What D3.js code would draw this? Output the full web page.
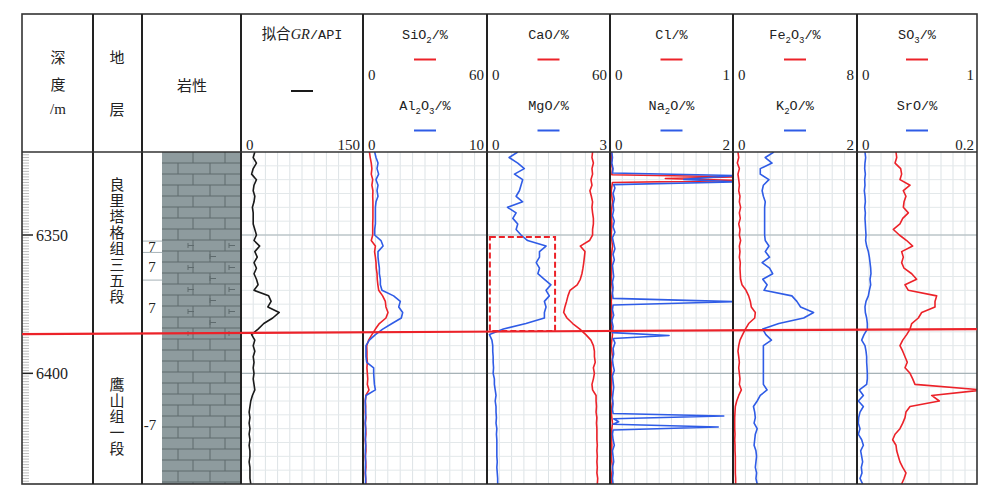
<!DOCTYPE html>
<html><head><meta charset="utf-8">
<script src="https://cdn.jsdelivr.net/npm/d3@7"></script>
<style>body{margin:0;background:#fff}svg{display:block}</style>
</head><body><svg id="chart" width="1000" height="501"></svg>
<script>
// ---------------- DATA ----------------
const depths = [6320,6322,6324,6326,6328,6330,6332,6334,6336,6338,
  6340,6342,6344,6346,6348,6350,6352,6354,6356,6358,
  6360,6362,6364,6366,6368,6370,6372,6374,6376,6378,
  6380,6382,6384,6386,6388,6390,6392,6394,6396,6398,
  6400,6402,6404,6406,6408,6410,6412,6414,6416,6418,
  6420,6422,6424,6426,6428,6430,6432,6434,6436,6438,6440];
const grValues = [17,15,19,15,13,19,16,15,17,16, 14,15,15,15,17,19,16,23,17,20,
  16,19,16,19,21,16,34,37,33,47, 39,28,21,13,17,15,17,15,16,15,
  16,15,16,17,14,12,11,10,11,10, 11,10,11,10,11,11,10,11,11,11, 12];
const sio2Values = [3.1,3.5,4.0,4.3,4.0,4.7,4.3,4.8,4.7,4.8, 4.8,4.8,4.8,4.7,4.7,4.7,4.0,6.0,5.6,6.0,
  6.3,6.4,6.8,6.9,7.2,7.6,9.5,10.8,11.1,12.1, 11.1,7.9,6.0,4.3,2.7,1.8,1.9,1.9,2.1,1.9,
  2.1,2.3,2.1,2.9,1.4,1.1,1.3,1.1,1.4,1.1, 1.3,1.4,1.1,1.3,1.4,1.1,1.3,1.4,1.1,1.3, 1.4];
const al2o3Values = [0.94,1.05,1.21,1.13,1.26,1.05,1.21,1.13,1.21,1.05, 1.0,1.0,1.0,1.0,0.94,0.94,1.45,1.62,1.21,1.21,
  1.26,1.32,1.32,1.40,1.40,1.53,2.47,3.01,2.88,3.20, 3.09,2.34,1.59,1.0,0.51,0.24,0.24,0.24,0.30,0.86,
  0.86,0.89,0.92,1.0,0.24,0.19,0.19,0.22,0.20,0.19, 0.21,0.19,0.20,0.22,0.19,0.20,0.21,0.19,0.20,0.22, 0.20];
const caoValues = [51.5,51.2,51.9,51.2,51.5,50.7,51.2,50.2,50.9,51.5, 51.2,51.5,51.9,51.9,51.5,51.5,50.0,45.5,47.8,47.5,
  47.2,46.8,46.3,45.5,44.0,40.5,39.5,38.8,38.0,37.4, 39.0,41.8,45.3,48.2,50.7,51.9,52.4,52.4,52.8,51.9,
  52.4,51.9,51.2,51.5,53.2,53.2,53.4,53.2,53.6,53.4, 53.6,53.6,53.6,53.8,53.6,53.8,53.6,53.8,53.6,54.0, 53.8];
const mgoValues = [0.75,0.54,0.75,0.91,0.67,0.87,0.83,0.79,0.71,0.87, 0.50,0.71,0.63,0.75,0.71,0.83,0.99,1.44,1.28,1.28,
  1.20,1.28,1.24,1.40,1.56,1.44,1.52,1.40,1.44,1.40, 1.40,0.95,0.40,0.06,0.12,0.14,0.14,0.15,0.15,0.16,
  0.15,0.18,0.18,0.20,0.22,0.20,0.22,0.22,0.23,0.22, 0.24,0.23,0.24,0.24,0.24,0.24,0.25,0.24,0.25,0.26, 0.26];
const fe2o3Values = [0.32,0.37,0.28,0.41,0.32,0.37,0.41,0.37,0.45,0.41, 0.49,0.41,0.47,0.37,0.45,0.41,0.49,0.41,0.45,0.41,
  0.47,0.45,0.47,0.49,0.58,0.84,1.01,1.12,1.18,1.44, 1.40,1.01,0.80,0.62,0.45,0.37,0.32,0.37,0.41,0.37,
  0.41,0.45,0.41,0.54,0.37,0.24,0.15,0.13,0.11,0.11, 0.11,0.13,0.11,0.13,0.13,0.15,0.15,0.15,0.15,0.17, 0.17];
const k2oValues = [0.66,0.52,0.63,0.44,0.44,0.58,0.49,0.47,0.49,0.52, 0.51,0.51,0.51,0.51,0.51,0.51,0.52,0.58,0.52,0.59,
  0.47,0.59,0.64,0.48,0.55,0.50,0.95,1.03,1.09,1.30, 1.14,0.74,0.48,0.53,0.62,0.49,0.49,0.49,0.49,0.49,
  0.49,0.49,0.49,0.55,0.44,0.39,0.33,0.35,0.36,0.34, 0.39,0.36,0.35,0.34,0.37,0.38,0.37,0.36,0.38,0.37, 0.39];
const so3Values = [0.325,0.331,0.317,0.364,0.372,0.358,0.442,0.386,0.408,0.392, 0.386,0.428,0.381,0.358,0.303,0.353,0.414,0.464,0.372,0.386,
  0.372,0.392,0.456,0.497,0.400,0.428,0.664,0.650,0.650,0.539, 0.511,0.456,0.442,0.414,0.381,0.358,0.381,0.400,0.419,0.400,
  0.442,0.464,0.483,1.05,0.622,0.686,0.442,0.408,0.400,0.381, 0.358,0.317,0.297,0.325,0.331,0.344,0.358,0.381,0.408,0.392, 0.372];
const sroValues = [0.0133,0.0144,0.0133,0.0128,0.0139,0.0128,0.0133,0.0122,0.0133,0.0139, 0.0128,0.0139,0.0133,0.0139,0.0144,0.0150,0.0144,0.0161,0.0189,0.0206,
  0.0217,0.0228,0.0233,0.0217,0.0228,0.0206,0.0189,0.0150,0.0133,0.0139, 0.0161,0.0172,0.0172,0.0117,0.0078,0.0133,0.0150,0.0161,0.0161,0.0167,
  0.0172,0.0172,0.0161,0.0039,0.0106,0.0022,0.0106,0.0050,0.0028,0.0022, 0.0050,0.0022,0.0078,0.0106,0.0061,0.0078,0.0094,0.0072,0.0083,0.0050, 0.0094];
// spiky curves: [depth, value]
const clPoints = [[6320,0.01],[6322,0.015],[6324,0.01],[6326,0.02],[6328.2,0.015],[6329.0,1.05],[6329.6,0.45],[6330.3,1.05],[6331.0,0.02],
  [6334,0.01],[6338,0.02],[6342,0.01],[6346,0.015],[6350,0.01],[6354,0.02],[6358,0.01],[6362,0.015],[6366,0.01],[6370,0.02],
  [6374,0.01],[6378,0.015],[6382,0.01],[6386,0.02],[6390,0.01],[6394,0.02],[6398,0.01],[6402,0.015],[6406,0.01],[6410,0.02],
  [6414,0.01],[6418,0.02],[6422,0.01],[6426,0.015],[6430,0.01],[6434,0.02],[6438,0.01],[6440,0.015]];
const na2oPoints = [[6320,0.03],[6322,0.04],[6324,0.03],[6326,0.05],[6327.6,0.04],[6328.5,2.05],[6329.9,1.2],[6330.8,2.05],[6331.8,0.06],
  [6333,0.08],[6335,0.05],[6337,0.07],[6339,0.05],[6341,0.06],[6343,0.04],[6345,0.07],[6347,0.05],[6349,0.08],[6351,0.04],
  [6353,0.06],[6355,0.08],[6357,0.05],[6359,0.07],[6361,0.04],[6363,0.05],[6365,0.06],[6367,0.04],[6369,0.05],[6371,0.04],
  [6372.9,0.05],[6374.1,2.05],[6375.3,0.05],[6377,0.04],[6379,0.06],[6381,0.03],[6383,0.05],[6385.3,0.04],[6386.3,0.96],[6387.4,0.05],
  [6389,0.08],[6391,0.05],[6393,0.06],[6395,0.04],[6397,0.05],[6399,0.07],[6401,0.04],[6403,0.05],[6405,0.06],[6407,0.05],
  [6409,0.04],[6411,0.05],[6413,0.04],[6414.5,0.05],[6415.4,1.85],[6416.4,0.06],[6417.5,0.14],[6418.4,0.05],[6419.4,1.76],[6420.5,0.05],
  [6422,0.04],[6424,0.05],[6426,0.07],[6428,0.04],[6430,0.05],[6432,0.06],[6434,0.04],[6436,0.05],[6438,0.04],[6440,0.05]];
const depthDomain = [6320, 6440];
const depthLabels = [6350, 6400];
const boundaryDepth = [6385.8, 6384.0]; // left, right ends of the red formation boundary
const mgoBox = {v0: 0.07, v1: 1.66, d0: 6350.7, d1: 6384.7};
const sampleLabels = [{d: 6354.3, t: "7"}, {d: 6361.6, t: "7"}, {d: 6376.4, t: "7"}, {d: 6418.7, t: "-7"}];
const sampleLines = [6352.2, 6356.3, 6366.3];
const dolomiteInterval = [6352, 6386];
const formations = [{t: "良里塔格组三五段", d: 6352.2}, {t: "鹰山组一段", d: 6415.8}];

// ---------------- LAYOUT ----------------
const RED = "#ec2229", BLUE = "#2f5ce6";
const L = 22, T = 14, R = 977, B = 484, HB = 152;
const cols = [22, 93, 142, 241, 363, 487, 610, 733, 857, 977];
const svg = d3.select("#chart");
const y = d3.scaleLinear().domain(depthDomain).range([HB, B]);
const zip = (vals) => depths.map((d, i) => [d, vals[i]]);

const CJK = "'Noto Sans CJK SC', sans-serif";
const SERIF = "'Liberation Serif', 'Times New Roman', serif";
const MONO = "'Liberation Mono', monospace";

const tracks = [
  {x0: 241, x1: 363, top: null, curves: [{pts: zip(grValues), dom: [0, 150], color: "#1a1a1a"}]},
  {x0: 363, x1: 487, top: {lab: [["SiO"], ["2", 1], ["/%"]], r: ["0", "60"]}, bot: {lab: [["Al"], ["2", 1], ["O"], ["3", 1], ["/%"]], r: ["0", "10"]},
   curves: [{pts: zip(sio2Values), dom: [0, 60], color: RED}, {pts: zip(al2o3Values), dom: [0, 10], color: BLUE}]},
  {x0: 487, x1: 610, top: {lab: [["CaO/%"]], r: ["0", "60"]}, bot: {lab: [["MgO/%"]], r: ["0", "3"]},
   curves: [{pts: zip(caoValues), dom: [0, 60], color: RED}, {pts: zip(mgoValues), dom: [0, 3], color: BLUE}]},
  {x0: 610, x1: 733, top: {lab: [["Cl/%"]], r: ["0", "1"]}, bot: {lab: [["Na"], ["2", 1], ["O/%"]], r: ["0", "2"]},
   curves: [{pts: clPoints, dom: [0, 1], color: RED}, {pts: na2oPoints, dom: [0, 2], color: BLUE}]},
  {x0: 733, x1: 857, top: {lab: [["Fe"], ["2", 1], ["O"], ["3", 1], ["/%"]], r: ["0", "8"]}, bot: {lab: [["K"], ["2", 1], ["O/%"]], r: ["0", "2"]},
   curves: [{pts: zip(fe2o3Values), dom: [0, 8], color: RED}, {pts: zip(k2oValues), dom: [0, 2], color: BLUE}]},
  {x0: 857, x1: 977, top: {lab: [["SO"], ["3", 1], ["/%"]], r: ["0", "1"]}, bot: {lab: [["SrO/%"]], r: ["0", "0.2"]},
   curves: [{pts: zip(so3Values), dom: [0, 1], color: RED}, {pts: zip(sroValues), dom: [0, 0.2], color: BLUE}]}
];

const defs = svg.append("defs");

// ---------- grid in tracks ----------
const gGrid = svg.append("g");
tracks.forEach(tr => {
  const w = tr.x1 - tr.x0;
  for (let i = 1; i < 10; i++) {
    gGrid.append("line").attr("x1", tr.x0 + w * i / 10).attr("x2", tr.x0 + w * i / 10)
      .attr("y1", HB).attr("y2", B).attr("stroke", "#dde3e6").attr("stroke-width", 1);
  }
  for (let d = 6325; d < 6440; d += 5) {
    gGrid.append("line").attr("x1", tr.x0).attr("x2", tr.x1).attr("y1", y(d)).attr("y2", y(d))
      .attr("stroke", "#e3e8ea").attr("stroke-width", 1);
  }
});
depthLabels.forEach(d => {
  gGrid.append("line").attr("x1", 241).attr("x2", R).attr("y1", y(d)).attr("y2", y(d))
    .attr("stroke", "#a7b3b7").attr("stroke-width", 1.2);
});

// ---------- lithology ----------
const gLith = svg.append("g");
const bx0 = 162, bx1 = 241, rowH = 11, brickW = 32;
gLith.append("rect").attr("x", bx0).attr("y", HB).attr("width", bx1 - bx0).attr("height", B - HB).attr("fill", "#8e9b9e");
const nRows = Math.ceil((B - HB) / rowH);
for (let i = 0; i < nRows; i++) {
  const ry = HB + i * rowH;
  if (i > 0) gLith.append("line").attr("x1", bx0).attr("x2", bx1).attr("y1", ry).attr("y2", ry).attr("stroke", "#5e6a6d").attr("stroke-width", 1);
  const off = (i % 2 === 0) ? 31 : 16;
  for (let x = bx0 + off; x < bx1; x += brickW) {
    gLith.append("line").attr("x1", x).attr("x2", x).attr("y1", ry).attr("y2", Math.min(ry + rowH, B)).attr("stroke", "#5e6a6d").attr("stroke-width", 1);
  }
  const dMid = y.invert(ry + rowH / 2);
  if (dMid > dolomiteInterval[0] && dMid < dolomiteInterval[1]) {
    const xs = (i % 2 === 0) ? [188, 229] : [210];
    xs.forEach(mx => {
      const my = ry + rowH / 2;
      gLith.append("line").attr("x1", mx).attr("x2", mx + 6).attr("y1", my).attr("y2", my).attr("stroke", "#5e6a6d");
      gLith.append("line").attr("x1", mx).attr("x2", mx).attr("y1", my - 2.5).attr("y2", my + 2.5).attr("stroke", "#5e6a6d");
    });
  }
}
sampleLines.forEach(d => {
  gLith.append("line").attr("x1", 143).attr("x2", bx0).attr("y1", y(d)).attr("y2", y(d)).attr("stroke", "#a7b3b7").attr("stroke-width", 1);
});
sampleLabels.forEach(s => {
  gLith.append("text").attr("x", s.t.length > 1 ? 150 : 152).attr("y", y(s.d) + 5).attr("text-anchor", "middle")
    .attr("font-family", SERIF).attr("font-size", 15).attr("fill", "#222").text(s.t);
});

// ---------- depth column ----------
const gDepth = svg.append("g");
for (let d = 6321; d < 6440; d++) {
  if (depthLabels.includes(d)) continue;
  gDepth.append("line").attr("x1", L).attr("x2", L + 7).attr("y1", y(d)).attr("y2", y(d)).attr("stroke", "#bcbcbc").attr("stroke-width", 1);
}
depthLabels.forEach(d => {
  gDepth.append("line").attr("x1", L).attr("x2", L + 11).attr("y1", y(d)).attr("y2", y(d)).attr("stroke", "#222").attr("stroke-width", 1.5);
  gDepth.append("text").attr("x", 36).attr("y", y(d) + 5.5).attr("font-family", SERIF).attr("font-size", 16).attr("fill", "#222").text(d);
});

// ---------- formation labels (vertical text) ----------
formations.forEach(f => {
  svg.append("text").attr("x", 117).attr("y", y(f.d)).attr("text-anchor", "middle")
    .style("writing-mode", "vertical-rl").style("text-orientation", "upright")
    .attr("letter-spacing", 1)
    .attr("font-family", CJK).attr("font-size", 15).attr("fill", "#222").text(f.t);
});

// ---------- curves ----------
tracks.forEach((tr, ti) => {
  const cid = "clip" + ti;
  defs.append("clipPath").attr("id", cid).append("rect").attr("x", tr.x0).attr("y", HB).attr("width", tr.x1 - tr.x0).attr("height", B - HB);
  const g = svg.append("g").attr("clip-path", `url(#${cid})`);
  tr.curves.forEach(c => {
    const x = d3.scaleLinear().domain(c.dom).range([tr.x0, tr.x1]);
    const line = d3.line().x(p => x(p[1])).y(p => y(p[0]));
    g.append("path").datum(c.pts).attr("d", line).attr("fill", "none").attr("stroke", c.color)
      .attr("stroke-width", 1.6).attr("stroke-linejoin", "round");
  });
});

// dashed box in CaO/MgO track
{
  const tr = tracks[2];
  const x = d3.scaleLinear().domain([0, 3]).range([tr.x0, tr.x1]);
  svg.append("rect").attr("x", x(mgoBox.v0)).attr("y", y(mgoBox.d0))
    .attr("width", x(mgoBox.v1) - x(mgoBox.v0)).attr("height", y(mgoBox.d1) - y(mgoBox.d0))
    .attr("fill", "none").attr("stroke", RED).attr("stroke-width", 2).attr("stroke-dasharray", "6,3");
}

// ---------- header ----------
const gH = svg.append("g");
function cjkCol(x, items) {
  items.forEach(it => {
    gH.append("text").attr("x", x).attr("y", it.y).attr("text-anchor", "middle")
      .attr("font-family", it.mono ? SERIF : CJK).attr("font-size", 15).attr("fill", "#222").text(it.t);
  });
}
cjkCol(58, [{t: "深", y: 63}, {t: "度", y: 90}, {t: "/m", y: 114, mono: true}]);
cjkCol(117, [{t: "地", y: 63}, {t: "层", y: 115}]);
cjkCol(192, [{t: "岩性", y: 91}]);

function chemLabel(cx, by, parts) {
  const t = gH.append("text").attr("x", cx).attr("y", by).attr("text-anchor", "middle")
    .attr("font-family", MONO).attr("font-size", 13.5).attr("fill", "#222");
  let sub = false;
  parts.forEach(p => {
    const ts = t.append("tspan").text(p[0]);
    if (p[1] && !sub) { ts.attr("dy", 4).attr("font-size", 9); sub = true; }
    else if (!p[1] && sub) { ts.attr("dy", -4); sub = false; }
    else if (p[1]) { ts.attr("font-size", 9); }
  });
}
function rangeLabels(tr, by, r) {
  gH.append("text").attr("x", tr.x0 + 5).attr("y", by).attr("font-family", SERIF).attr("font-size", 15).attr("fill", "#222").text(r[0]);
  gH.append("text").attr("x", tr.x1 - 3).attr("y", by).attr("text-anchor", "end").attr("font-family", SERIF).attr("font-size", 15).attr("fill", "#222").text(r[1]);
}
function legendLine(cx, ly, color) {
  gH.append("line").attr("x1", cx - 11).attr("x2", cx + 11).attr("y1", ly).attr("y2", ly).attr("stroke", color).attr("stroke-width", 2);
}
// GR track header
{
  const tr = tracks[0], cx = (tr.x0 + tr.x1) / 2;
  const t = gH.append("text").attr("x", cx).attr("y", 39).attr("text-anchor", "middle").attr("font-size", 14.5).attr("fill", "#222");
  t.append("tspan").attr("font-family", CJK).text("拟合");
  t.append("tspan").attr("font-family", SERIF).attr("font-style", "italic").text("GR");
  t.append("tspan").attr("font-family", MONO).attr("font-size", 13.5).text("/API");
  legendLine(cx, 91, "#1a1a1a");
  rangeLabels(tr, 149.5, ["0", "150"]);
}
tracks.slice(1).forEach(tr => {
  const cx = (tr.x0 + tr.x1) / 2;
  chemLabel(cx, 38.5, tr.top.lab);
  legendLine(cx, 59.5, RED);
  rangeLabels(tr, 80, tr.top.r);
  chemLabel(cx, 109.5, tr.bot.lab);
  legendLine(cx, 130.5, BLUE);
  rangeLabels(tr, 149.5, tr.bot.r);
});

// ---------- frame ----------
const gF = svg.append("g");
gF.append("rect").attr("x", L).attr("y", T).attr("width", R - L).attr("height", B - T).attr("fill", "none").attr("stroke", "#333").attr("stroke-width", 1.6);
cols.slice(1, -1).forEach(x => {
  gF.append("line").attr("x1", x).attr("x2", x).attr("y1", T).attr("y2", B).attr("stroke", "#222").attr("stroke-width", 2);
});
gF.append("line").attr("x1", L).attr("x2", R).attr("y1", HB).attr("y2", HB).attr("stroke", "#333").attr("stroke-width", 1.6);

// ---------- formation boundary ----------
svg.append("line").attr("x1", L).attr("x2", R).attr("y1", y(boundaryDepth[0])).attr("y2", y(boundaryDepth[1]))
  .attr("stroke", RED).attr("stroke-width", 2.2);
</script>
</body></html>
